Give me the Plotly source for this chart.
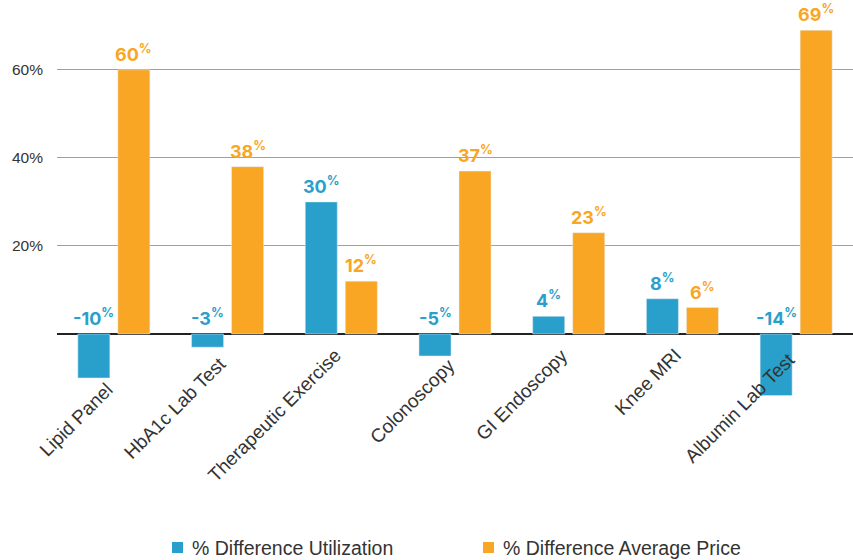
import plotly.graph_objects as go

categories = ["Lipid Panel", "HbA1c Lab Test", "Therapeutic Exercise", "Colonoscopy",
              "GI Endoscopy", "Knee MRI", "Albumin Lab Test"]
utilization = [-10, -3, 30, -5, 4, 8, -14]
avg_price = [60, 38, 12, 37, 23, 6, 69]
series_names = ["% Difference Utilization", "% Difference Average Price"]
y_ticks = [20, 40, 60]
y_tick_text = ["20%", "40%", "60%"]

BLUE = "#29A0CB"
ORANGE = "#F8A623"
TEXT = "#333333"
SANS = "'Liberation Sans', Arial, sans-serif"
BOLD = "Inter, Roboto, sans-serif"

Y_MIN, Y_MAX = -15, 73.6
PLOT_H = 390  # pixel height of the plotting area

# extra downward nudge (px) for category labels that would collide with bars
label_drop = [34, 8, 0, 10, 0, 0, 4]

fig = go.Figure()
fig.add_bar(x=categories, y=utilization, name=series_names[0], marker_color=BLUE)
fig.add_bar(x=categories, y=avg_price, name=series_names[1], marker_color=ORANGE)

annotations = []
# value labels above each bar (above the baseline for negatives)
for values, color, shift in [(utilization, BLUE, -20), (avg_price, ORANGE, 20)]:
    for cat, v in zip(categories, values):
        annotations.append(dict(
            x=cat, y=max(v, 0), xref="x", yref="y", xshift=shift, yshift=3,
            text=f"<b>{v}<sup>%</sup></b>", showarrow=False,
            xanchor="center", yanchor="bottom",
            font=dict(family=BOLD, size=18, color=color)))

# slanted category labels hanging from the zero line
for cat, drop in zip(categories, label_drop):
    annotations.append(dict(
        x=cat, y=0, xref="x", yref="y", xshift=6, yshift=-8 - drop,
        text=cat, showarrow=False, textangle=-45,
        xanchor="right", yanchor="top",
        font=dict(family=SANS, size=19, color=TEXT)))

# legend: colour swatches with labels along the bottom
legend_items = [(series_names[0], BLUE, 172), (series_names[1], ORANGE, 483)]
shapes = []
for name, color, px in legend_items:
    shapes.append(dict(type="rect", xref="paper", yref="paper",
                       x0=(px - 57) / 796, x1=(px - 57 + 11) / 796,
                       y0=-(553 - 400) / PLOT_H, y1=-(542 - 400) / PLOT_H,
                       line_width=0, fillcolor=color))
    annotations.append(dict(
        x=(px - 57 + 18) / 796, y=-(548 - 400) / PLOT_H, xref="paper", yref="paper",
        text=name, showarrow=False, xanchor="left", yanchor="middle",
        font=dict(family=SANS, size=19.5, color=TEXT)))

fig.update_layout(
    width=853, height=560,
    margin=dict(l=57, r=0, t=10, b=160),
    paper_bgcolor="white", plot_bgcolor="white",
    barmode="group", bargap=0.296, bargroupgap=0.2,
    showlegend=False,
    annotations=annotations, shapes=shapes,
    font=dict(family=SANS, color=TEXT),
    xaxis=dict(range=[-0.5, len(categories) - 0.5], autorange=False,
               showticklabels=False, showgrid=False, showline=False, ticks=""),
    yaxis=dict(
        range=[Y_MIN, Y_MAX], autorange=False, automargin=False,
        tickvals=y_ticks, ticktext=y_tick_text,
        showgrid=True, gridcolor="#A0A0A0", gridwidth=1,
        zeroline=True, zerolinecolor="#222222", zerolinewidth=2,
        showline=False, ticks="", ticklabelstandoff=13,
        tickfont=dict(family=SANS, size=15.5, color=TEXT)),
)

fig.write_html("out.html")
